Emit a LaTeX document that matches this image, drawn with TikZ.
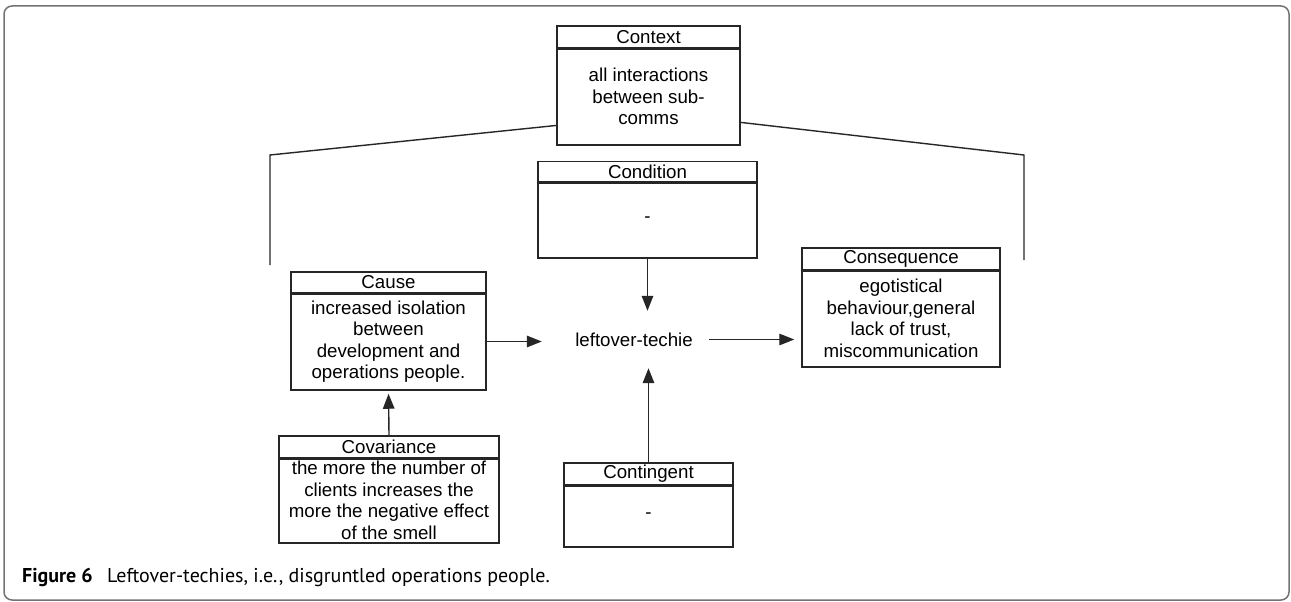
\documentclass[tikz,border=0pt]{standalone}
\usepackage{fontspec}
\setmainfont{Liberation Sans}
\newfontfamily\capfont{PT Sans}
\usetikzlibrary{arrows.meta,calc}
\tikzset{
  bx/.style={draw=black!85, line width=1.5pt, inner sep=0pt, align=center,
    font=\fontsize{18.7}{21.5}\selectfont},
  arr/.style={draw=black!85, line width=1.4pt, -{Triangle[length=15pt,width=11.5pt]}},
  ln/.style={draw=black!85, line width=1.4pt},
  sep/.style={draw=black!85, line width=2.4pt},
  capt/.style={anchor=base west, inner sep=0pt, font=\capfont\fontsize{20}{23}\selectfont},
}
\begin{document}
\begin{tikzpicture}[x=1pt,y=-1pt]
\useasboundingbox (0,0) rectangle (1291,602);
\draw[draw=black!55, line width=1.5pt, rounded corners=8pt] (4,6) rectangle (1289,600);

% Context
\node[bx, minimum width=183pt, minimum height=22pt] (ctxh) at (648.5,37) {Context};
\node[bx, minimum width=183pt, minimum height=97pt] (ctx) at (648.5,96.5) {all interactions\\between sub-\\comms};
% Condition
\node[bx, minimum width=219pt, minimum height=21pt] (condh) at (647.5,172) {Condition};
\node[bx, minimum width=219pt, minimum height=76pt] (cond) at (647.5,220) {-};
% Cause
\node[bx, minimum width=195pt, minimum height=21pt] (caush) at (388.5,282.5) {Cause};
\node[bx, minimum width=195pt, minimum height=97pt] (cause) at (388.5,341.5) {increased isolation\\between\\development and\\operations people.};
% Consequence
\node[bx, minimum width=198pt, minimum height=22pt] (consh) at (901,259) {Consequence};
\node[bx, minimum width=198pt, minimum height=97pt] (cons) at (901,318.5) {egotistical\\behaviour,general\\lack of trust,\\miscommunication};
% Covariance
\node[bx, minimum width=220pt, minimum height=22pt] (covh) at (389,447) {Covariance};
\node[bx, minimum width=220pt, minimum height=85pt] (cov) at (389,500.5) {the more the number of\\clients increases the\\more the negative effect\\of the smell};
% Contingent
\node[bx, minimum width=169pt, minimum height=22pt] (conth) at (648.5,474) {Contingent};
\node[bx, minimum width=169pt, minimum height=62pt] (cont) at (648.5,516) {-};
% Central phenomenon
\node[inner sep=0pt, minimum width=167pt, minimum height=57pt,
  font=\fontsize{18.7}{21.5}\selectfont] (lt) at (625.5,339.5) {\hspace{17pt}leftover-techie};

% heavier separator between header and body
\foreach \h in {ctxh,condh,caush,consh,covh,conth}
  \draw[sep] (\h.south west) -- (\h.south east);

% Context brackets
\coordinate (cl1) at (270,155);
\coordinate (cl2) at (270,265);
\coordinate (cr1) at (1024,155);
\coordinate (cr2) at (1024,260);
\draw[ln] ($(ctx.south west)!0.206!(ctx.north west)$) -- (cl1) -- (cl2);
\draw[ln] ($(ctx.south east)!0.237!(ctx.north east)$) -- (cr1) -- (cr2);

% Arrows
\draw[arr] (cond.south) -- (cond.south |- lt.north);
\draw[arr] (conth.north) -- (conth.north |- lt.south);
\draw[arr] (cause.east) -- (cause.east -| lt.west);
\draw[arr, shorten >=7pt] (lt.east) -- (lt.east -| cons.west);
\draw[arr, shorten >=3pt] (covh.north) -- (cause.south);

% Caption
\node[capt] (capa) at (22,582) {\textbf{Figure 6}};
\node[capt] (capb) at (107,582) {Leftover-techies, i.e., disgruntled operations people.};
\end{tikzpicture}
\end{document}
